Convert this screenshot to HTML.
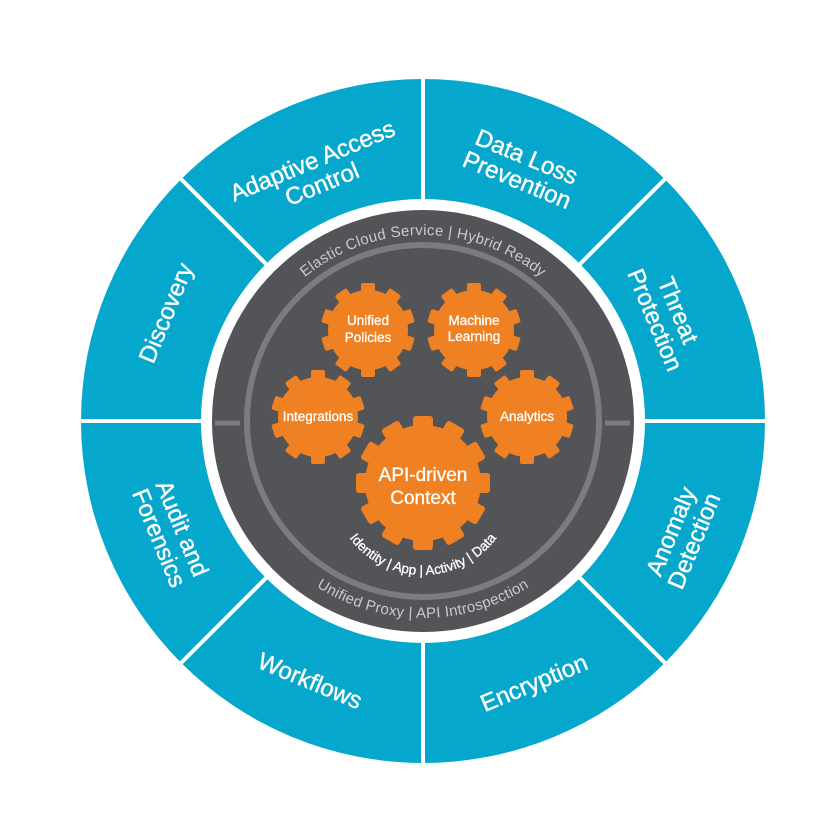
<!DOCTYPE html>
<html><head><meta charset="utf-8"><style>
html,body{margin:0;padding:0;background:#fff;}
svg{display:block;}
text{font-family:"Liberation Sans",sans-serif;}
</style></head><body>
<svg width="840" height="840" viewBox="0 0 840 840" xmlns="http://www.w3.org/2000/svg">
<defs>
  <g id="sg">
    <circle r="40" fill="#f08122"/>
    <rect x="-7" y="-47" width="14" height="14" rx="2" fill="#f08122" transform="rotate(0)"/>
    <rect x="-7" y="-47" width="14" height="14" rx="2" fill="#f08122" transform="rotate(36)"/>
    <rect x="-7" y="-47" width="14" height="14" rx="2" fill="#f08122" transform="rotate(72)"/>
    <rect x="-7" y="-47" width="14" height="14" rx="2" fill="#f08122" transform="rotate(108)"/>
    <rect x="-7" y="-47" width="14" height="14" rx="2" fill="#f08122" transform="rotate(144)"/>
    <rect x="-7" y="-47" width="14" height="14" rx="2" fill="#f08122" transform="rotate(180)"/>
    <rect x="-7" y="-47" width="14" height="14" rx="2" fill="#f08122" transform="rotate(216)"/>
    <rect x="-7" y="-47" width="14" height="14" rx="2" fill="#f08122" transform="rotate(252)"/>
    <rect x="-7" y="-47" width="14" height="14" rx="2" fill="#f08122" transform="rotate(288)"/>
    <rect x="-7" y="-47" width="14" height="14" rx="2" fill="#f08122" transform="rotate(324)"/>
  </g>
  <g id="bg">
    <circle r="58" fill="#f08122"/>
    <rect x="-10" y="-67" width="20" height="16" rx="3" fill="#f08122" transform="rotate(0)"/>
    <rect x="-10" y="-67" width="20" height="16" rx="3" fill="#f08122" transform="rotate(30)"/>
    <rect x="-10" y="-67" width="20" height="16" rx="3" fill="#f08122" transform="rotate(60)"/>
    <rect x="-10" y="-67" width="20" height="16" rx="3" fill="#f08122" transform="rotate(90)"/>
    <rect x="-10" y="-67" width="20" height="16" rx="3" fill="#f08122" transform="rotate(120)"/>
    <rect x="-10" y="-67" width="20" height="16" rx="3" fill="#f08122" transform="rotate(150)"/>
    <rect x="-10" y="-67" width="20" height="16" rx="3" fill="#f08122" transform="rotate(180)"/>
    <rect x="-10" y="-67" width="20" height="16" rx="3" fill="#f08122" transform="rotate(210)"/>
    <rect x="-10" y="-67" width="20" height="16" rx="3" fill="#f08122" transform="rotate(240)"/>
    <rect x="-10" y="-67" width="20" height="16" rx="3" fill="#f08122" transform="rotate(270)"/>
    <rect x="-10" y="-67" width="20" height="16" rx="3" fill="#f08122" transform="rotate(300)"/>
    <rect x="-10" y="-67" width="20" height="16" rx="3" fill="#f08122" transform="rotate(330)"/>
  </g>
  <path id="topArc" d="M 237 421 A 186 186 0 0 1 609 421" fill="none"/>
  <path id="botArc" d="M 226 421 A 197 197 0 0 0 620 421" fill="none"/>
  <path id="apiArc" d="M 331 483 A 92 92 0 0 0 515 483" fill="none"/>
</defs>

<circle cx="423" cy="421" r="342" fill="#05a8cc"/>
<g stroke="#fff" stroke-width="4">
  <line x1="423" y1="70" x2="423" y2="772"/>
  <line x1="72" y1="421" x2="774" y2="421"/>
  <line x1="175" y1="173" x2="671" y2="669"/>
  <line x1="671" y1="173" x2="175" y2="669"/>
</g>
<circle cx="423" cy="421" r="222" fill="#fff"/>
<circle cx="423" cy="421" r="211" fill="#535458"/>
<circle cx="423" cy="421" r="176" fill="none" stroke="#7b7c80" stroke-width="6"/>
<g stroke="#7b7c80" stroke-width="5">
  <line x1="215" y1="423" x2="240" y2="423"/>
  <line x1="605" y1="423" x2="630" y2="423"/>
</g>

<text font-size="15" fill="#c9cacc" letter-spacing="0.3"><textPath href="#topArc" startOffset="50%" text-anchor="middle">Elastic Cloud Service | Hybrid Ready</textPath></text>
<text font-size="15" fill="#c9cacc" letter-spacing="0.3"><textPath href="#botArc" startOffset="50%" text-anchor="middle">Unified Proxy | API Introspection</textPath></text>

<use href="#sg" x="368" y="330"/>
<use href="#sg" x="474" y="330"/>
<use href="#sg" x="318" y="417"/>
<use href="#sg" x="527" y="417"/>
<use href="#bg" x="423" y="483"/>

<g fill="#fff" font-size="13.5" text-anchor="middle" stroke="#fff" stroke-width="0.3">
  <text x="368" y="325">Unified</text>
  <text x="368" y="342">Policies</text>
  <text x="474" y="325">Machine</text>
  <text x="474" y="341">Learning</text>
  <text x="318" y="421">Integrations</text>
  <text x="527" y="421">Analytics</text>
  <text x="423" y="481" font-size="19">API-driven</text>
  <text x="423" y="504" font-size="19">Context</text>
</g>
<text font-size="13.5" fill="#fff" stroke="#fff" stroke-width="0.3"><textPath href="#apiArc" startOffset="50%" text-anchor="middle">Identity | App | Activity | Data</textPath></text>

<g fill="#fff" font-size="24" text-anchor="middle" stroke="#fff" stroke-width="0.4">
  <g transform="translate(317,172) rotate(-22.5)">
    <text x="0" y="-4">Adaptive Access</text>
    <text x="0" y="21">Control</text>
  </g>
  <g transform="translate(522,168) rotate(22.5)">
    <text x="0" y="-4">Data Loss</text>
    <text x="0" y="21">Prevention</text>
  </g>
  <g transform="translate(667,315) rotate(67.5)">
    <text x="0" y="-4">Threat</text>
    <text x="0" y="21">Protection</text>
  </g>
  <g transform="translate(166,313) rotate(-67.5)">
    <text x="0" y="8">Discovery</text>
  </g>
  <g transform="translate(171,533) rotate(67.5)">
    <text x="0" y="-4">Audit and</text>
    <text x="0" y="21">Forensics</text>
  </g>
  <g transform="translate(682,536) rotate(-67.5)">
    <text x="0" y="-4">Anomaly</text>
    <text x="0" y="21">Detection</text>
  </g>
  <g transform="translate(310,681) rotate(22.5)">
    <text x="0" y="8">Workflows</text>
  </g>
  <g transform="translate(534,683) rotate(-22.5)">
    <text x="0" y="8">Encryption</text>
  </g>
</g>
</svg>
</body></html>
